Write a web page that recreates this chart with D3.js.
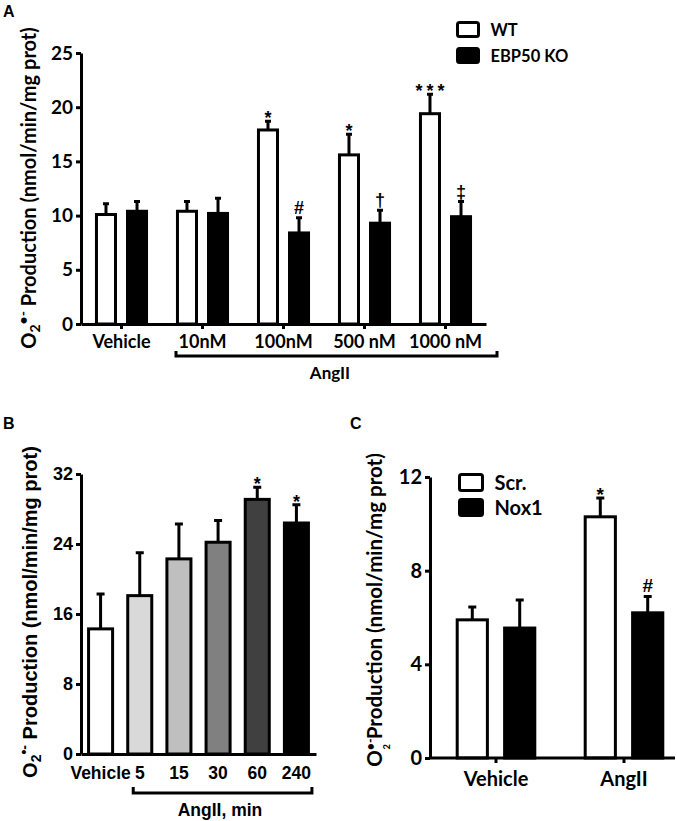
<!DOCTYPE html>
<html>
<head>
<meta charset="utf-8">
<script src="https://cdn.jsdelivr.net/npm/d3@7"></script>
<style>
body{margin:0;background:#fff;}
svg{display:block;}
</style>
</head>
<body>
<svg width="677" height="821"></svg>
<script>
// panel A data
var aGroups = ["Vehicle", "10nM", "100nM", "500 nM", "1000 nM"];
var aSeries = ["WT", "EBP50 KO"];
var aWT = [10.1, 10.4, 17.9, 15.6, 19.4];
var aWTErr = [1.0, 0.9, 0.8, 1.9, 1.8];
var aKO = [10.4, 10.2, 8.4, 9.3, 9.9];
var aKOErr = [0.9, 1.4, 1.4, 1.2, 1.4];
var aWTMarks = ["", "", "*", "*", "***"];
var aKOMarks = ["", "", "#", "\u2020", "\u2021"];
var aTicks = [0, 5, 10, 15, 20, 25];

// panel B data
var bCats = ["Vehicle", "5", "15", "30", "60", "240"];
var bVals = [14.3, 18.1, 22.3, 24.2, 29.1, 26.4];
var bErr = [4.0, 4.9, 4.0, 2.5, 1.4, 2.1];
var bMarks = ["", "", "", "", "*", "*"];
var bTicks = [0, 8, 16, 24, 32];

// panel C data
var cGroups = ["Vehicle", "AngII"];
var cSeries = ["Scr.", "Nox1"];
var cScr = [5.9, 10.3];
var cScrErr = [0.55, 0.8];
var cNox = [5.55, 6.2];
var cNoxErr = [1.2, 0.7];
var cScrMarks = ["", "*"];
var cNoxMarks = ["", "#"];
var cTicks = [0, 4, 8, 12];

var bFills = ["#ffffff", "#d9d9d9", "#bfbfbf", "#808080", "#404040", "#000000"];

var svg = d3.select("svg");
var fCal = "Lato, 'Open Sans', sans-serif";
var fAri = "'Liberation Sans', Arial, sans-serif";

function styleAxis(g, font, size) {
    g.select(".domain").attr("stroke-width", 3).attr("stroke", "#000");
    g.selectAll(".tick line").attr("stroke-width", 3).attr("stroke", "#000");
    g.selectAll(".tick text").attr("font-family", font).attr("font-size", size)
        .attr("font-weight", "bold").attr("fill", "#000");
}

// rows: {x, w, v, e, fill, m}
function drawBars(g, rows, y, fs, capW) {
    // error bars (upper only)
    g.selectAll(".err").data(rows).enter().append("path")
        .attr("class", "err")
        .attr("fill", "none").attr("stroke", "#000").attr("stroke-width", 3)
        .attr("d", function(d){
            var cx = d.x + d.w / 2;
            return "M" + cx + "," + y(d.v) + "V" + y(d.v + d.e) +
                "M" + (cx - capW / 2) + "," + y(d.v + d.e) + "H" + (cx + capW / 2);
        });
    g.selectAll(".bar").data(rows).enter().append("rect")
        .attr("class", "bar")
        .attr("x", function(d){ return d.x + 1.5; })
        .attr("width", function(d){ return d.w - 3; })
        .attr("y", function(d){ return y(d.v); })
        .attr("height", function(d){ return y(0) - y(d.v); })
        .attr("fill", function(d){ return d.fill; })
        .attr("stroke", "#000").attr("stroke-width", 3);
    g.selectAll(".mark").data(rows.filter(function(d){ return d.m; })).enter().append("text")
        .attr("class", "mark")
        .attr("x", function(d){ return d.x + d.w / 2 + (d.m.length > 1 ? 2 : 0); })
        .attr("y", function(d){ return y(d.v + d.e) + (d.m.indexOf("*") >= 0 ? 3 : -4); })
        .attr("text-anchor", "middle")
        .attr("letter-spacing", function(d){ return d.m.length > 1 ? 4 : 0; })
        .attr("font-family", fAri).attr("font-size", fs).attr("font-weight", "bold")
        .text(function(d){ return d.m; });
}

function yTitle(x, y, font, size, stacked) {
    var t = svg.append("text")
        .attr("transform", "translate(" + x + "," + y + ") rotate(-90)")
        .attr("text-anchor", "middle")
        .attr("font-family", font).attr("font-size", size).attr("font-weight", "bold");
    t.append("tspan").text("O");
    if (stacked) {
        t.append("tspan").attr("dy", -7).attr("font-size", size * 0.6).text("\u2022-");
        t.append("tspan").attr("dx", -11).attr("dy", 15).attr("font-size", size * 0.45).text("2");
        t.append("tspan").attr("dy", -8).text(" Production (nmol/min/mg prot)");
    } else {
        t.append("tspan").attr("dy", 4).attr("font-size", size * 0.7).text("2");
        t.append("tspan").attr("dy", -12).attr("font-size", size * 0.7).text("\u2022-");
        t.append("tspan").attr("dy", 8).text(" Production (nmol/min/mg prot)");
    }
}

function label(x, y, txt, font, size) {
    svg.append("text").attr("x", x).attr("y", y)
        .attr("font-family", font).attr("font-size", size).attr("font-weight", "bold")
        .text(txt);
}

function bracket(x0, x1, y, hook) {
    svg.append("path").attr("fill", "none").attr("stroke", "#000").attr("stroke-width", 3)
        .attr("d", "M" + x0 + "," + (y - hook) + "V" + y + "H" + x1 + "V" + (y - hook));
}

function legend(x, y, gap, w, h, names, fills, font, size) {
    names.forEach(function(n, i){
        svg.append("rect").attr("x", x).attr("y", y + i * gap).attr("width", w).attr("height", h)
            .attr("rx", 2).attr("fill", fills[i]).attr("stroke", "#000").attr("stroke-width", 3);
        svg.append("text").attr("x", x + w + 12).attr("y", y + i * gap + h - 0.5)
            .attr("font-family", font).attr("font-size", size).attr("font-weight", "bold")
            .text(n);
    });
}

// ---------- Panel A ----------
var yA = d3.scaleLinear().domain([0, 25]).range([324, 53]);
var xA = d3.scaleBand().domain(aGroups).range([81, 486]);
var xA1 = d3.scaleBand().domain(aSeries).range([0, xA.bandwidth()]).paddingInner(0.29).paddingOuter(0.45);

var rowsA = [];
aGroups.forEach(function(g, i){
    rowsA.push({x: xA(g) + xA1("WT"), w: xA1.bandwidth(), v: aWT[i], e: aWTErr[i], m: aWTMarks[i], fill: "#fff"});
    rowsA.push({x: xA(g) + xA1("EBP50 KO"), w: xA1.bandwidth(), v: aKO[i], e: aKOErr[i], m: aKOMarks[i], fill: "#000"});
});
var gA = svg.append("g");
drawBars(gA, rowsA, yA, 18, 6);

var axA = svg.append("g").attr("transform", "translate(81,0)")
    .call(d3.axisLeft(yA).tickValues(aTicks).tickSize(5).tickSizeOuter(0).tickPadding(3));
styleAxis(axA, fCal, 19);
var axAx = svg.append("g").attr("transform", "translate(0," + yA(0) + ")")
    .call(d3.axisBottom(xA).tickSize(5).tickSizeOuter(0).tickPadding(6));
styleAxis(axAx, fCal, 18);

bracket(xA("10nM") + 14, xA("1000 nM") + xA.bandwidth() + 11, 356, 5);
svg.append("text").attr("x", 330).attr("y", 379).attr("text-anchor", "middle")
    .attr("font-family", fCal).attr("font-size", 17).attr("font-weight", "bold").text("AngII");
legend(457.5, 22.5, 26, 21, 14, aSeries, ["#fff", "#000"], fCal, 16.5);
yTitle(36, 188, fCal, 20, false);
label(3, 17, "A", fAri, 16);

// ---------- Panel B ----------
var yB = d3.scaleLinear().domain([0, 32]).range([754, 474]);
var xB = d3.scaleBand().domain(bCats).range([81, 316]).paddingInner(0.31).paddingOuter(0.155);
var rowsB = bCats.map(function(c, i){
    return {x: xB(c), w: xB.bandwidth(), v: bVals[i], e: bErr[i], m: bMarks[i], fill: bFills[i]};
});
var gB = svg.append("g");
drawBars(gB, rowsB, yB, 18, 8);

var axB = svg.append("g").attr("transform", "translate(81,0)")
    .call(d3.axisLeft(yB).tickValues(bTicks).tickSize(5).tickSizeOuter(0).tickPadding(3));
styleAxis(axB, fAri, 18);
var axBx = svg.append("g").attr("transform", "translate(0," + yB(0) + ")")
    .call(d3.axisBottom(xB).tickSize(0).tickSizeOuter(0).tickPadding(13));
styleAxis(axBx, fAri, 17.5);

bracket(xB("5") + 7, xB("240") + xB.bandwidth() + 2, 793, 6);
svg.append("text").attr("x", 220).attr("y", 816).attr("text-anchor", "middle")
    .attr("font-family", fAri).attr("font-size", 17.5).attr("font-weight", "bold").text("AngII, min");
yTitle(37, 612, fAri, 20, false);
label(3, 429, "B", fAri, 16);

// ---------- Panel C ----------
var yC = d3.scaleLinear().domain([0, 12]).range([758, 477]);
var xC = d3.scaleBand().domain(cGroups).range([432, 688]);
var xC1 = d3.scaleBand().domain(cSeries).range([0, xC.bandwidth()]).paddingInner(0.3).paddingOuter(0.5);
var rowsC = [];
cGroups.forEach(function(g, i){
    rowsC.push({x: xC(g) + xC1("Scr."), w: xC1.bandwidth(), v: cScr[i], e: cScrErr[i], m: cScrMarks[i], fill: "#fff"});
    rowsC.push({x: xC(g) + xC1("Nox1"), w: xC1.bandwidth(), v: cNox[i], e: cNoxErr[i], m: cNoxMarks[i], fill: "#000"});
});
var gC = svg.append("g");
drawBars(gC, rowsC, yC, 19, 8);

var axC = svg.append("g").attr("transform", "translate(430,0)")
    .call(d3.axisLeft(yC).tickValues(cTicks).tickSize(5).tickSizeOuter(0).tickPadding(3));
styleAxis(axC, fCal, 20);
var axCx = svg.append("g").attr("transform", "translate(0," + yC(0) + ")")
    .call(d3.axisBottom(xC).tickSize(5).tickSizeOuter(0).tickPadding(9));
axCx.select(".domain").remove();
styleAxis(axCx, fCal, 20);
svg.append("line").attr("x1", 430).attr("x2", 675).attr("y1", yC(0)).attr("y2", yC(0))
    .attr("stroke", "#000").attr("stroke-width", 3);

legend(459.5, 474.5, 25, 23, 16, cSeries, ["#fff", "#000"], fCal, 20);
yTitle(382, 610, fCal, 20.5, true);
label(350, 429, "C", fAri, 16);
</script>
</body>
</html>
